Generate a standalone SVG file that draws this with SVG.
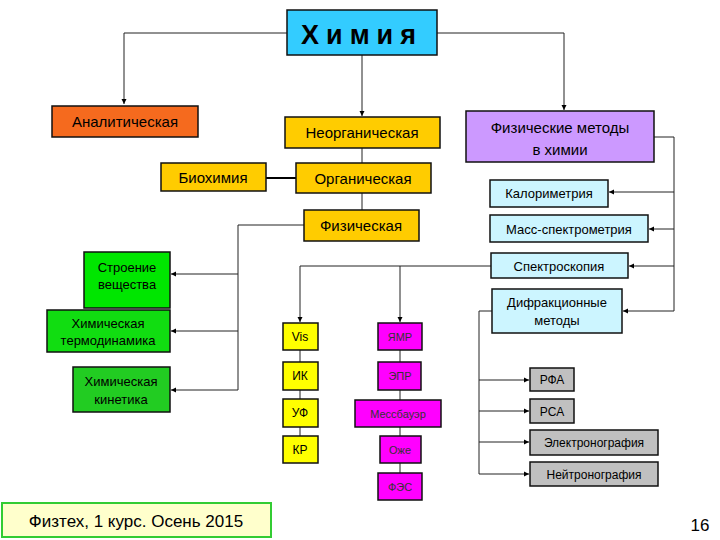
<svg xmlns="http://www.w3.org/2000/svg" width="720" height="540" viewBox="0 0 720 540">
<defs>
<marker id="a" markerWidth="6" markerHeight="6" refX="5" refY="3" orient="auto" markerUnits="userSpaceOnUse"><path d="M0,0.5 L5,3 L0,5.5 Z" fill="#000"/></marker>
<style>
.b{stroke:#111;stroke-width:1.5}
.t{font-family:"Liberation Sans",Arial,sans-serif;font-size:15px;fill:#000;text-anchor:middle}
.s{font-size:12px}
.l{fill:none;stroke:#222;stroke-width:1}
</style>
</defs>
<rect width="720" height="540" fill="#fff"/>
<g id="connectors">
<path class="l" d="M287,33 H124 V104" marker-end="url(#a)"/>
<path class="l" d="M437,33 H564 V110" marker-end="url(#a)"/>
<path class="l" d="M362,55 V116" marker-end="url(#a)"/>
<path class="l" d="M362,148 V163 M362,193 V210"/>
<path d="M266,178 H296" stroke="#000" stroke-width="2"/>
<path class="l" d="M304,225 H238 V390"/>
<path class="l" d="M238,274 H171" marker-end="url(#a)"/>
<path class="l" d="M238,331 H171" marker-end="url(#a)"/>
<path class="l" d="M238,390 H171" marker-end="url(#a)"/>
<path class="l" d="M654,137 H674 V311"/>
<path class="l" d="M674,192 H609" marker-end="url(#a)"/>
<path class="l" d="M674,229 H649" marker-end="url(#a)"/>
<path class="l" d="M674,266 H629" marker-end="url(#a)"/>
<path class="l" d="M674,311 H623" marker-end="url(#a)"/>
<path class="l" d="M491,266 H300 V322" marker-end="url(#a)"/>
<path class="l" d="M400,266 V322" marker-end="url(#a)"/>
<path class="l" d="M300,350 V362 M300,390 V399 M300,427 V436"/>
<path class="l" d="M400,350 V362 M400,390 V400 M400,427 V436 M400,463 V473"/>
<path class="l" d="M492,311 H479 V474"/>
<path class="l" d="M479,380 H529" marker-end="url(#a)"/>
<path class="l" d="M479,411 H529" marker-end="url(#a)"/>
<path class="l" d="M479,442 H529" marker-end="url(#a)"/>
<path class="l" d="M479,474 H529" marker-end="url(#a)"/>
</g>
<g id="himiya"><rect class="b" x="287" y="10" width="150" height="45" fill="#33ccff"/><text class="t" x="362" y="44" style="font-size:27px;font-weight:bold;letter-spacing:7px">Химия</text></g>
<g id="analit"><rect class="b" x="52" y="106" width="146" height="31" fill="#f56a1e"/><text class="t" x="125" y="127">Аналитическая</text></g>
<g id="neorg"><rect class="b" x="285" y="117" width="155" height="31" fill="#ffcc00"/><text class="t" x="362" y="138">Неорганическая</text></g>
<g id="fizmet"><rect class="b" x="466" y="111" width="188" height="51" fill="#cc99ff"/><text class="t" x="560" y="133">Физические методы</text><text class="t" x="560" y="155">в химии</text></g>
<g id="bio"><rect class="b" x="161" y="163" width="105" height="28" fill="#ffcc00"/><text class="t" x="213" y="183">Биохимия</text></g>
<g id="org"><rect class="b" x="296" y="163" width="135" height="30" fill="#ffcc00"/><text class="t" x="363" y="184">Органическая</text></g>
<g id="fiz"><rect class="b" x="304" y="210" width="115" height="31" fill="#ffcc00"/><text class="t" x="361" y="231">Физическая</text></g>
<g id="stroenie"><rect class="b" x="84" y="252" width="86" height="56" fill="#00e600"/><text class="t s" x="127" y="272" style="font-size:13px">Строение</text><text class="t s" x="127" y="289" style="font-size:13px">вещества</text></g>
<g id="termo"><rect class="b" x="47" y="310" width="123" height="42" fill="#11dd11"/><text class="t" x="108" y="328" style="font-size:13px">Химическая</text><text class="t" x="108" y="345" style="font-size:13px">термодинамика</text></g>
<g id="kinet"><rect class="b" x="73" y="367" width="97" height="45" fill="#22cc22"/><text class="t" x="121" y="386" style="font-size:13px">Химическая</text><text class="t" x="121" y="404" style="font-size:13px">кинетика</text></g>
<g id="kalor"><rect class="b" x="490" y="180" width="118" height="27" fill="#ccf5ff"/><text class="t s" x="549" y="198" style="font-size:13px">Калориметрия</text></g>
<g id="mass"><rect class="b" x="490" y="215" width="158" height="27" fill="#ccf5ff"/><text class="t" x="569" y="234" style="font-size:13px">Масс-спектрометрия</text></g>
<g id="spektr"><rect class="b" x="491" y="253" width="137" height="25" fill="#ccf5ff"/><text class="t" x="559" y="271" style="font-size:13px">Спектроскопия</text></g>
<g id="difr"><rect class="b" x="492" y="289" width="130" height="44" fill="#ccf5ff"/><text class="t" x="557" y="307" style="font-size:13px">Дифракционные</text><text class="t" x="557" y="325" style="font-size:13px">методы</text></g>
<g id="vis"><rect class="b" x="283" y="323" width="35" height="27" fill="#ffff00"/><text class="t s" x="300" y="341">Vis</text></g>
<g id="ik"><rect class="b" x="283" y="362" width="35" height="28" fill="#ffff00"/><text class="t s" x="300" y="380">ИК</text></g>
<g id="uf"><rect class="b" x="283" y="399" width="35" height="28" fill="#ffff00"/><text class="t s" x="300" y="417">УФ</text></g>
<g id="kr"><rect class="b" x="283" y="436" width="35" height="27" fill="#ffff00"/><text class="t s" x="300" y="454">КР</text></g>
<g id="yamr"><rect class="b" x="378" y="323" width="44" height="27" fill="#ff00ff"/><text class="t s" x="400" y="341" style="font-size:11px;fill:#333">ЯМР</text></g>
<g id="epr"><rect class="b" x="378" y="362" width="43" height="28" fill="#ff00ff"/><text class="t s" x="400" y="380" style="font-size:11px;fill:#333">ЭПР</text></g>
<g id="moss"><rect class="b" x="355" y="400" width="86" height="27" fill="#ff00ff"/><text class="t s" x="398" y="418" style="font-size:11px;fill:#333">Мессбауэр</text></g>
<g id="ozhe"><rect class="b" x="380" y="436" width="41" height="27" fill="#ff00ff"/><text class="t s" x="400" y="454" style="font-size:11px;fill:#333">Оже</text></g>
<g id="fes"><rect class="b" x="378" y="473" width="44" height="27" fill="#ff00ff"/><text class="t s" x="400" y="491" style="font-size:11px;fill:#333">ФЭС</text></g>
<g id="rfa"><rect class="b" x="530" y="368" width="44" height="23" fill="#c0c0c0"/><text class="t s" x="552" y="384">РФА</text></g>
<g id="rsa"><rect class="b" x="530" y="399" width="44" height="24" fill="#c0c0c0"/><text class="t s" x="552" y="416">РСА</text></g>
<g id="elektr"><rect class="b" x="530" y="430" width="128" height="25" fill="#c0c0c0"/><text class="t s" x="594" y="447">Электронография</text></g>
<g id="neitr"><rect class="b" x="530" y="462" width="128" height="24" fill="#c0c0c0"/><text class="t s" x="594" y="479">Нейтронография</text></g>
<g id="footer"><rect x="2" y="503" width="269" height="34" fill="#ffffcc" stroke="#33cc33" stroke-width="2"/><text class="t" x="136" y="527" style="font-size:17px">Физтех, 1 курс. Осень 2015</text></g>
<text class="t" x="700" y="531" style="font-size:17px">16</text>
</svg>
